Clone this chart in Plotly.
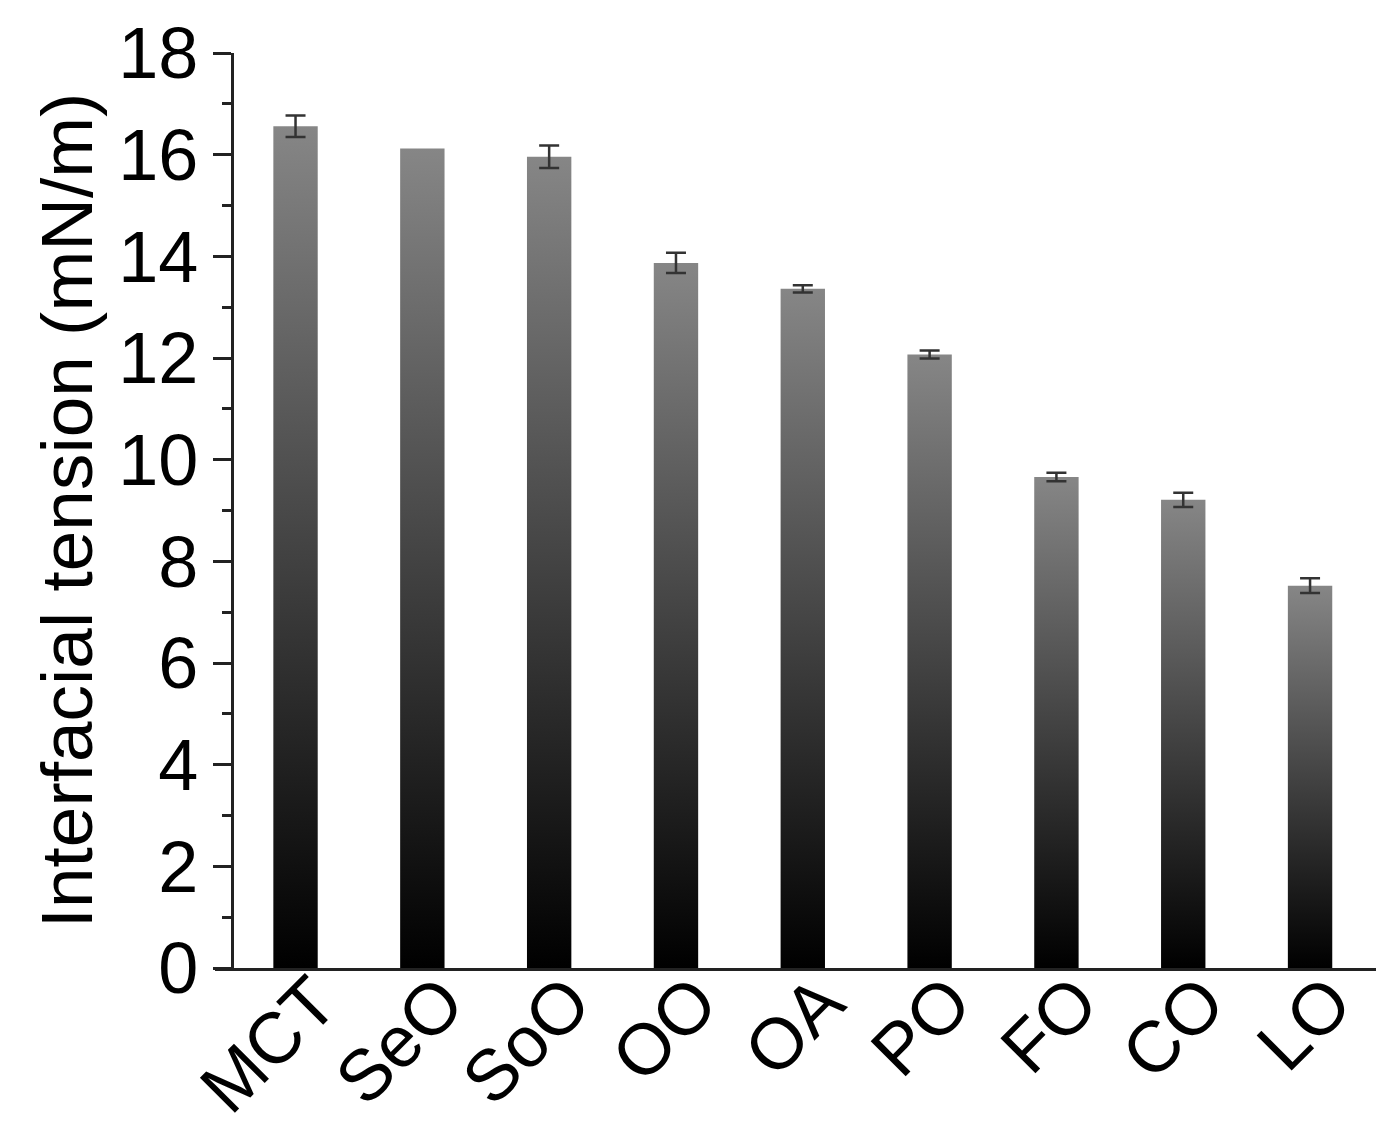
import plotly.graph_objects as go

# oils and interfacial tension (mN/m), mean and sd
oils = ["MCT", "SeO", "SoO", "OO", "OA", "PO", "FO", "CO", "LO"]
tension = [16.56, 16.12, 15.96, 13.87, 13.36, 12.07, 9.66, 9.21, 7.52]
tension_sd = [0.21, 0.0, 0.22, 0.20, 0.07, 0.08, 0.085, 0.14, 0.145]

y_ticks = [0, 2, 4, 6, 8, 10, 12, 14, 16, 18]

FONT = "Arial, Liberation Sans, sans-serif"
BAR_W = 0.35
GRAD = [[0, "#000000"], [1, "#868686"]]

fig = go.Figure()

# bars as filled rectangles so each can carry a vertical gradient
for i, v in enumerate(tension):
    fig.add_trace(go.Scatter(
        x=[i - BAR_W / 2, i + BAR_W / 2, i + BAR_W / 2, i - BAR_W / 2, i - BAR_W / 2],
        y=[0, 0, v, v, 0],
        mode="lines",
        line=dict(width=0),
        fill="toself",
        fillgradient=dict(type="vertical", colorscale=GRAD, start=0, stop=v),
        hoverinfo="skip",
        showlegend=False,
    ))

# error bars (only where a deviation is visible)
idx = [i for i, s in enumerate(tension_sd) if s > 0]
fig.add_trace(go.Scatter(
    x=idx,
    y=[tension[i] for i in idx],
    mode="markers",
    marker=dict(size=1, opacity=0),
    error_y=dict(type="data", array=[tension_sd[i] for i in idx],
                 color="#333333", thickness=2.5, width=10),
    showlegend=False,
    text=[oils[i] for i in idx],
    hovertemplate="%{text}: %{y}<extra></extra>",
))

fig.update_layout(
    width=1391,
    height=1125,
    margin=dict(l=207, r=23, t=45, b=165),
    paper_bgcolor="white",
    plot_bgcolor="white",
    font=dict(family=FONT, size=72, color="black"),
    xaxis=dict(
        range=[-0.635, 8.52],
        tickmode="array",
        tickvals=list(range(len(oils))),
        ticktext=oils,
        tickangle=-45,
        ticks="",
        ticklabelstandoff=-40,
        ticklabelshift=20,
        showline=True,
        linecolor="#222222",
        linewidth=3,
        showgrid=False,
        zeroline=False,
        automargin=False,
    ),
    yaxis=dict(
        range=[0, 18],
        anchor="free",
        position=0.0144,
        tickvals=y_ticks,
        ticks="outside",
        ticklen=18,
        tickwidth=3,
        tickcolor="#222222",
        minor=dict(dtick=1, ticks="outside", ticklen=9, tickwidth=3, tickcolor="#222222"),
        showline=True,
        linecolor="#222222",
        linewidth=3,
        showgrid=False,
        zeroline=False,
        title=dict(text="Interfacial tension (mN/m)", standoff=0, font=dict(size=73)),
        automargin=False,
    ),
)

fig.write_html("out.html")
